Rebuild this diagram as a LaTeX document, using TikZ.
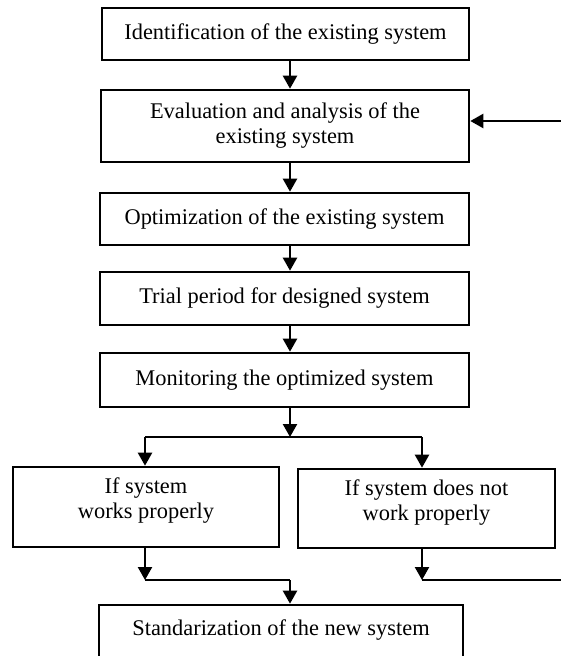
\documentclass[tikz,border=0pt]{standalone}
\usepackage{fontspec}
\setmainfont{Liberation Serif}
\usetikzlibrary{arrows.meta}
\begin{document}
\begin{tikzpicture}[x=1pt,y=-1pt,
  box/.style={draw, line width=2.6pt, rectangle, align=center, inner sep=0pt,
    font=\fontsize{22.4}{25}\selectfont},
  conn/.style={line width=2.3pt},
  arr/.style={conn, -{Triangle[length=13pt,width=14pt]}}]
\useasboundingbox (0,0) rectangle (561,656);
\clip (0,0) rectangle (561,656);
\node[box, minimum width=367pt, minimum height=52pt] (b1) at (285.5,34) {Identification of the existing system};
\node[box, minimum width=368pt, minimum height=72pt] (b2) at (285,126) {Evaluation and analysis of the\\existing system};
\node[box, minimum width=369pt, minimum height=52pt] (b3) at (284.5,219) {Optimization of the existing system};
\node[box, minimum width=369pt, minimum height=53pt] (b4) at (284.5,298.5) {Trial period for designed system};
\node[box, minimum width=369pt, minimum height=54pt] (b5) at (284.5,380) {Monitoring the optimized system};
\node[box, minimum width=266pt, minimum height=80pt] (b6) at (146,507) {If system\\works properly\\[-15pt]\strut};
\node[box, minimum width=257pt, minimum height=79pt] (b7) at (426.5,508.5) {If system does not\\work properly\\[-15pt]\strut};
\node[box, minimum width=364pt, minimum height=55pt, text height=15pt, text depth=9.5pt] (b8) at (281,632.5) {Standarization of the new system};
\coordinate (cx) at (290,0);
\coordinate (j1) at (290,437);
\coordinate (jl) at (145,437);
\coordinate (jr) at (422,437);
\coordinate (m1) at (145,580);
\coordinate (m2) at (290,580);
\coordinate (r1) at (422,580);
\coordinate (r2) at (566,580);
\coordinate (fb) at (566,121);
\draw[arr] (b1.south -| cx) -- (b2.north -| cx);
\draw[arr] (b2.south -| cx) -- (b3.north -| cx);
\draw[arr] (b3.south -| cx) -- (b4.north -| cx);
\draw[arr] (b4.south -| cx) -- (b5.north -| cx);
\draw[arr] (b5.south -| cx) -- (j1);
\draw[conn] (jl) -- (jr);
\draw[arr] (jl) -- (b6.north -| jl);
\draw[arr] (jr) -- (b7.north -| jr);
\draw[arr] (b6.south -| m1) -- (m1);
\draw[conn] (m1) -- (m2);
\draw[arr] (m2) -- (b8.north -| m2);
\draw[arr] (b7.south -| r1) -- (r1);
\draw[conn] (r1) -- (r2);
\draw[arr] (fb) -- (b2.east |- fb);
\end{tikzpicture}
\end{document}
